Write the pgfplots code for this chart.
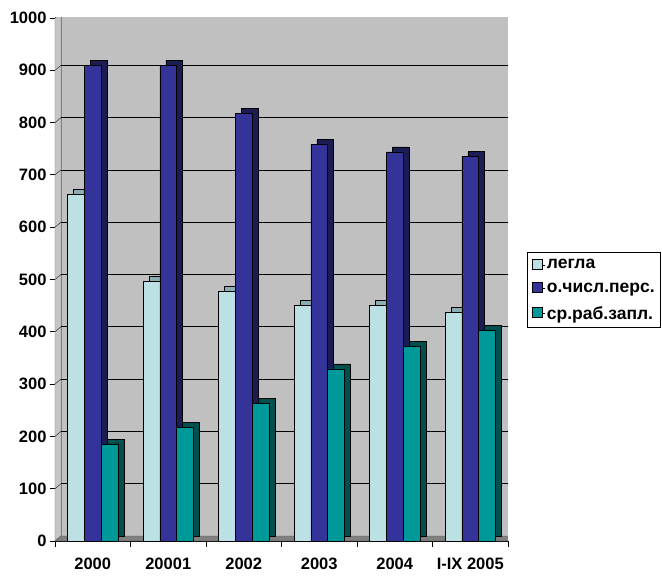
\documentclass[border=0pt]{standalone}
\usepackage{pgfplots}
\pgfplotsset{compat=1.18}
\usepackage{fontspec}
\setmainfont{Liberation Sans}
\definecolor{wall}{HTML}{C0C0C0}
\definecolor{floorc}{HTML}{808080}
\definecolor{lightb}{HTML}{BCE1E5}
\definecolor{lightside}{HTML}{8AAEB1}
\definecolor{darkb}{HTML}{333399}
\definecolor{darkside}{HTML}{1C1C55}
\definecolor{tealb}{HTML}{009999}
\definecolor{tealside}{HTML}{004F4F}
\newcommand{\lblfont}{\bfseries\fontsize{16.5}{19}\selectfont}
\newcommand{\legfont}{\bfseries\fontsize{17.5}{20}\selectfont}
\begin{document}
\begin{tikzpicture}
\path[use as bounding box] (-55pt,-35pt) rectangle (607pt,541pt);
\begin{axis}[
  at={(0pt,0pt)}, anchor=south west,
  scale only axis, width=453pt, height=523pt,
  xmin=-0.5, xmax=5.5, ymin=0, ymax=1000,
  axis x line*=bottom, axis y line*=left,
  axis line style={black, line width=0.8pt},
  xtick={0,1,2,3,4,5},
  xticklabels={2000,20001,2002,2003,2004,I-IX 2005},
  minor xtick={-0.5,0.5,1.5,2.5,3.5,4.5,5.5},
  ytick={0,100,...,1000},
  tick align=outside,
  x tick style={draw=none},
  minor x tick style={draw=black, line width=0.8pt},
  minor tick length=6pt,
  y tick style={black, line width=0.8pt},
  major tick length=5pt,
  /pgf/number format/assume math mode=true,
  /pgf/number format/1000 sep={},
  yticklabel style={font=\lblfont},
  xticklabel style={font=\lblfont, yshift=-8pt},
  legend cell align=left,
  legend style={at={(1.042,0.5526)}, anchor=north west, draw=black, line width=0.8pt,
    fill=white, font=\legfont, inner xsep=4pt, inner ysep=5pt, row sep=8.5pt},
  legend image code/.code={\path (0pt,0pt) -- (13pt,0pt);
    \draw[#1, draw=black, line width=0.6pt] (1pt,-4pt) rectangle (11pt,6pt);},
]
% back wall, left wall, floor
\fill[wall, draw=gray] ([shift={(6pt,5pt)}]axis cs:-0.5,0) rectangle ([shift={(6pt,5pt)}]axis cs:5.5,1000);
\fill[wall!90!white, draw=gray] (axis cs:-0.5,0) -- (axis cs:-0.5,1000) -- ([shift={(6pt,5pt)}]axis cs:-0.5,1000) -- ([shift={(6pt,5pt)}]axis cs:-0.5,0) -- cycle;
\pgfplotsinvokeforeach{100,200,300,400,500,600,700,800,900,1000}{
  \draw[black, line width=0.7pt] ([shift={(6pt,5pt)}]axis cs:-0.5,#1) -- ([shift={(6pt,5pt)}]axis cs:5.5,#1);
  \draw[gray!40!black, line width=0.5pt] (axis cs:-0.5,#1) -- ([shift={(6pt,5pt)}]axis cs:-0.5,#1);
}
\fill[floorc, draw=gray!60!black] (axis cs:-0.5,0) -- (axis cs:5.5,0) -- ([shift={(6pt,5pt)}]axis cs:5.5,0) -- ([shift={(6pt,5pt)}]axis cs:-0.5,0) -- cycle;

% legla
\addplot[ybar, bar width=16.7pt, bar shift=-16.7pt, fill=lightside, draw=black, line width=0.5pt, xshift=6pt, yshift=5pt, forget plot]
  coordinates {(0,663) (1,497) (2,477) (3,450) (4,450) (5,437)};
\addplot[ybar, bar width=16.7pt, bar shift=-16.7pt, fill=lightb, draw=black, line width=0.5pt]
  coordinates {(0,663) (1,497) (2,477) (3,450) (4,450) (5,437)};
% staff
\addplot[ybar, bar width=16.7pt, bar shift=0pt, fill=darkside, draw=black, line width=0.5pt, xshift=6pt, yshift=5pt, forget plot]
  coordinates {(0,910) (1,910) (2,818) (3,758) (4,744) (5,735)};
\addplot[ybar, bar width=16.7pt, bar shift=0pt, fill=darkb, draw=black, line width=0.5pt]
  coordinates {(0,910) (1,910) (2,818) (3,758) (4,744) (5,735)};
% wage
\addplot[ybar, bar width=16.7pt, bar shift=16.7pt, fill=tealside, draw=black, line width=0.5pt, xshift=6pt, yshift=5pt, forget plot]
  coordinates {(0,185) (1,217) (2,263) (3,329) (4,372) (5,403)};
\addplot[ybar, bar width=16.7pt, bar shift=16.7pt, fill=tealb, draw=black, line width=0.5pt]
  coordinates {(0,185) (1,217) (2,263) (3,329) (4,372) (5,403)};
\legend{легла, о.числ.перс., ср.раб.запл.}
\end{axis}
\end{tikzpicture}
\end{document}
